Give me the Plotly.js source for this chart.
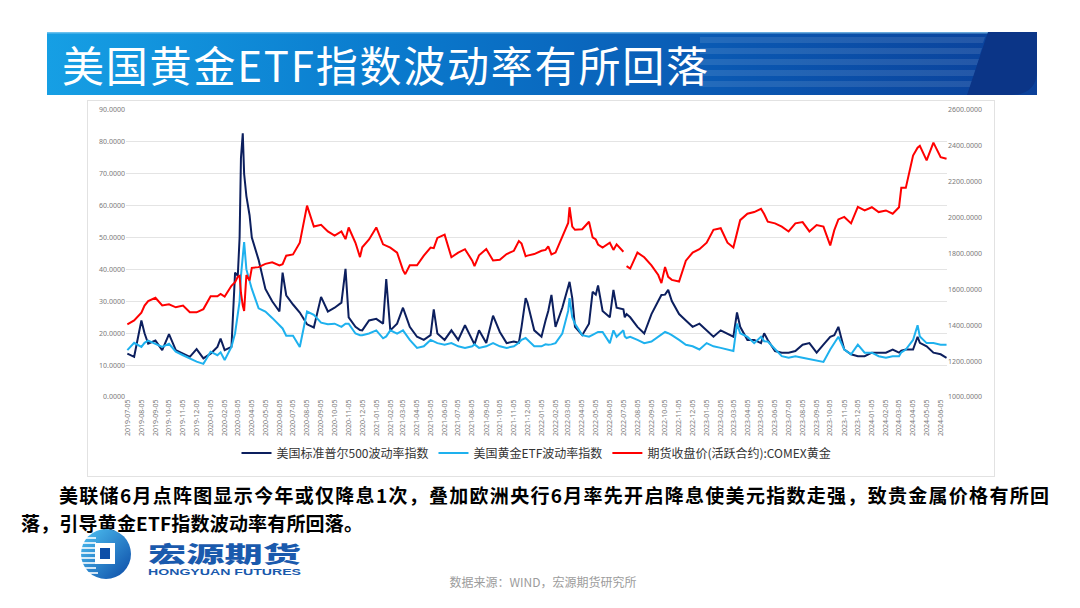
<!DOCTYPE html>
<html><head><meta charset="utf-8">
<script src="https://cdn.plot.ly/plotly-3.0.1.min.js"></script>
<style>
body{margin:0;width:1080px;height:608px;background:#fff;position:relative;overflow:hidden;font-family:"Noto Sans CJK SC",sans-serif;}
#deco{position:absolute;left:0;top:0}
#chart{position:absolute;left:87px;top:100px;width:908px;height:377px;}
</style></head>
<body>
<svg id="deco" width="1080" height="608" xmlns="http://www.w3.org/2000/svg">
<defs>
<linearGradient id="bg" x1="0" x2="1" y1="0" y2="0">
<stop offset="0" stop-color="#169fe4"/>
<stop offset="0.35" stop-color="#0a7acd"/>
<stop offset="0.7" stop-color="#0a57b1"/>
<stop offset="1" stop-color="#0b4099"/>
</linearGradient>
<linearGradient id="lg" x1="0" x2="1" y1="0" y2="1">
<stop offset="0" stop-color="#4fc3f3"/>
<stop offset="1" stop-color="#0b4aa6"/>
</linearGradient>
</defs>
<rect x="47" y="32" width="990" height="63" fill="url(#bg)"/>
<rect x="47" y="32" width="990" height="1.5" fill="#8fd0f2" opacity="0.7"/>
<g fill="#ffffff" opacity="0.1">
<polygon points="700,37 985,37 983,43 700,43"/>
<polygon points="700,48 982,48 980,54 700,54"/>
<polygon points="700,59 979,59 977,65 700,65"/>
<polygon points="700,70 976,70 974,76 700,76"/>
<polygon points="700,81 973,81 971,87 700,87"/>
</g>
<path d="M988,32 L1037,32 L1037,70 Q1037,95 1010,95 L967,95 Z" fill="#0b3587"/>
<text x="62" y="82" font-family="Noto Sans CJK SC" font-size="42" font-weight="400" fill="#ffffff" textLength="646" lengthAdjust="spacing">美国黄金ETF指数波动率有所回落</text>
<rect x="87.5" y="100.5" width="907" height="376" fill="#ffffff" stroke="#e2e2e2" stroke-width="1"/>
<text x="59" y="503" font-family="Noto Sans CJK SC" font-size="19" font-weight="700" fill="#000" textLength="990" lengthAdjust="spacing">美联储6月点阵图显示今年或仅降息1次，叠加欧洲央行6月率先开启降息使美元指数走强，致贵金属价格有所回</text>
<text x="21" y="531" font-family="Noto Sans CJK SC" font-size="19" font-weight="700" fill="#000" textLength="342" lengthAdjust="spacing">落，引导黄金ETF指数波动率有所回落。</text>
<g transform="translate(74,529)">
<circle cx="32" cy="25" r="25" fill="url(#lg)"/>
<g stroke="#ffffff" stroke-width="1.6">
<line x1="4" y1="9" x2="22" y2="9"/><line x1="2" y1="14" x2="22" y2="14"/><line x1="1" y1="19" x2="22" y2="19"/>
<line x1="0" y1="24" x2="22" y2="24"/><line x1="1" y1="29" x2="22" y2="29"/><line x1="2" y1="34" x2="22" y2="34"/>
<line x1="4" y1="39" x2="22" y2="39"/><line x1="8" y1="44" x2="24" y2="44"/>
</g>
<rect x="21" y="14" width="20" height="21" fill="#ffffff"/>
<rect x="26" y="19" width="10" height="11" fill="#0d4ea8"/>
</g>
<text x="148" y="562" font-family="Noto Sans CJK SC" font-size="22" font-weight="900" fill="#1a5aad" textLength="153" lengthAdjust="spacingAndGlyphs">宏源期货</text>
<text x="148" y="575" font-family="Liberation Sans" font-size="9.5" font-weight="700" fill="#1a5aad" textLength="153" lengthAdjust="spacingAndGlyphs">HONGYUAN FUTURES</text>
<text x="543" y="587" text-anchor="middle" font-family="Noto Sans CJK SC" font-size="12" fill="#9c9c9c">数据来源：WIND，宏源期货研究所</text>
</svg>
<div id="chart"></div>
<script>
const dates = ['2019-07-05','2019-07-20','2019-08-05','2019-08-12','2019-08-20','2019-09-05','2019-09-20','2019-10-05','2019-10-20','2019-11-05','2019-11-20','2019-12-05','2019-12-20',
'2020-01-05','2020-01-20','2020-01-27','2020-02-05','2020-02-20','2020-02-28','2020-03-05','2020-03-09','2020-03-12','2020-03-16','2020-03-19','2020-03-24','2020-03-31','2020-04-05','2020-04-20','2020-05-05','2020-05-20','2020-06-05','2020-06-12','2020-06-20','2020-07-05','2020-07-20','2020-08-05','2020-08-20','2020-09-05','2020-09-20','2020-10-05','2020-10-20','2020-10-29','2020-11-05','2020-11-20','2020-11-30','2020-12-05','2020-12-20',
'2021-01-05','2021-01-20','2021-01-27','2021-02-05','2021-02-20','2021-03-05','2021-03-10','2021-03-20','2021-04-05','2021-04-20','2021-05-05','2021-05-12','2021-05-20','2021-06-05','2021-06-20','2021-07-05','2021-07-20','2021-08-05','2021-08-10','2021-08-20','2021-09-05','2021-09-20','2021-10-05','2021-10-20','2021-11-05','2021-11-16','2021-11-22','2021-12-01','2021-12-05','2021-12-20',
'2022-01-05','2022-01-14','2022-01-20','2022-01-27','2022-02-05','2022-02-20','2022-03-05','2022-03-08','2022-03-14','2022-03-20','2022-04-05','2022-04-20','2022-04-28','2022-05-05','2022-05-10','2022-05-20','2022-06-05','2022-06-13','2022-06-20','2022-07-05','2022-07-08','2022-07-12','2022-07-20','2022-08-05','2022-08-20','2022-09-05','2022-09-20','2022-09-27','2022-10-05','2022-10-12','2022-10-20','2022-11-05','2022-11-20','2022-12-05','2022-12-20',
'2023-01-05','2023-01-20','2023-02-05','2023-02-20','2023-03-05','2023-03-13','2023-03-20','2023-04-05','2023-04-20','2023-05-05','2023-05-12','2023-05-20','2023-06-05','2023-06-20','2023-07-05','2023-07-20','2023-08-05','2023-08-20','2023-09-05','2023-09-20','2023-10-05','2023-10-14','2023-10-23','2023-11-05','2023-11-20','2023-12-05','2023-12-20',
'2024-01-05','2024-01-20','2024-02-05','2024-02-20','2024-03-05','2024-03-10','2024-03-20','2024-04-05','2024-04-15','2024-04-20','2024-05-05','2024-05-20','2024-06-05','2024-06-18'];

const spxVol = [13.6,12.6,24.0,20.0,16.7,17.7,14.7,19.7,14.7,13.6,12.6,15.0,12.1,
13.6,15.7,18.3,14.7,15.7,39.0,38.0,50.0,75.0,82.7,70.0,63.0,57.0,50.0,43.0,33.9,30.0,26.8,39.0,31.9,29.0,26.5,22.8,21.8,31.4,26.8,28.0,29.6,40.2,25.0,22.0,21.0,20.9,24.0,
24.5,23.0,37.0,20.9,23.0,28.0,26.0,22.0,18.9,17.9,19.4,27.5,19.9,17.9,20.9,17.9,22.5,17.9,16.5,20.9,16.9,25.5,20.4,16.9,17.4,17.0,22.0,31.0,29.6,20.9,
18.9,24.0,27.0,32.0,22.0,28.0,35.0,36.1,31.0,22.0,19.4,23.0,33.0,32.1,35.0,27.0,25.0,33.6,28.0,27.5,25.0,26.0,25.0,22.0,19.9,26.0,30.1,32.0,32.1,33.6,30.1,26.0,24.0,22.0,23.0,
20.9,18.9,20.9,19.9,18.9,26.5,22.0,17.9,17.9,16.9,20.0,17.9,14.4,13.9,13.9,14.4,16.4,16.9,13.9,16.4,18.9,19.4,22.0,14.9,13.4,12.8,12.8,
13.9,13.9,13.9,14.9,13.9,14.5,14.9,14.9,18.9,17.0,15.9,13.9,13.4,12.3];

const goldEtfVol = [14.7,17.0,15.7,17.0,17.7,16.7,15.7,16.7,14.2,13.1,12.1,11.1,10.4,
14.2,13.1,14.0,11.6,15.7,20.0,25.8,30.0,38.0,45.0,48.6,40.0,36.0,33.9,27.8,26.8,24.8,22.3,21.5,19.2,19.2,15.7,26.8,25.8,23.3,22.8,23.0,22.0,23.0,23.0,19.9,19.4,19.4,19.9,
20.9,18.4,19.0,20.9,19.9,20.9,20.0,17.9,15.4,15.9,17.9,17.5,16.9,16.4,16.9,15.9,15.4,15.9,16.5,15.4,15.9,16.9,15.9,15.4,15.9,17.0,17.9,18.5,17.9,15.9,
15.9,16.5,16.4,16.5,16.9,19.9,27.0,31.0,25.0,23.0,19.4,18.9,19.5,19.9,20.4,20.4,16.9,20.9,18.9,20.9,19.0,18.5,18.9,17.9,16.9,17.4,18.9,19.5,20.4,20.0,19.4,17.9,16.4,15.9,14.9,
16.9,15.9,15.4,14.9,14.4,23.0,20.0,18.9,16.9,18.9,17.5,17.4,14.9,12.8,12.3,12.8,12.3,11.8,11.3,11.0,14.9,16.9,18.9,14.9,13.4,16.4,13.9,
13.9,12.8,12.3,12.8,12.8,14.0,14.9,17.9,22.5,19.0,16.9,16.9,16.4,16.4];

const comexGold = [1405,1427,1470,1510,1535,1553,1510,1517,1500,1510,1472,1472,1490,
1562,1562,1575,1560,1620,1640,1670,1675,1580,1510,1480,1680,1650,1720,1724,1742,1751,1733,1740,1788,1795,1860,2067,1950,1960,1923,1900,1923,1880,1945,1860,1780,1835,1878,
1945,1851,1845,1833,1805,1707,1685,1734,1734,1788,1833,1830,1887,1905,1779,1805,1824,1760,1730,1790,1825,1761,1765,1797,1815,1869,1855,1785,1788,1797,
1815,1820,1840,1795,1805,1896,1970,2058,1950,1932,1935,1977,1890,1878,1850,1833,1860,1820,1851,1810,null,1730,1716,1805,1779,1734,1680,1635,1725,1670,1653,1644,1760,1805,1824,
1860,1932,1941,1860,1833,1910,1986,2022,2031,2049,2020,1977,1968,1950,1923,1968,1975,1923,1959,1950,1845,1930,1990,2004,1968,2060,2040,
2058,2031,2040,2022,2058,2166,2166,2346,2390,2400,2319,2418,2337,2328];

const seriesNames = ['美国标准普尔500波动率指数','美国黄金ETF波动率指数','期货收盘价(活跃合约):COMEX黄金'];

const tickVals = [];
for (let y = 2019, m = 7; y < 2024 || (y === 2024 && m <= 6);) {
  tickVals.push(y + '-' + String(m).padStart(2, '0') + '-05');
  m++; if (m > 12) { m = 1; y++; }
}
const tickText = tickVals.slice();

const traces = [
  {x: dates, y: spxVol, name: seriesNames[0], type: 'scatter', mode: 'lines', line: {color: '#0c1f5e', width: 2}, yaxis: 'y'},
  {x: dates, y: goldEtfVol, name: seriesNames[1], type: 'scatter', mode: 'lines', line: {color: '#1eb1ee', width: 2}, yaxis: 'y'},
  {x: dates, y: comexGold, name: seriesNames[2], type: 'scatter', mode: 'lines', line: {color: '#ff0000', width: 2}, yaxis: 'y2', connectgaps: false}
];

const tf = {family: 'Noto Sans, sans-serif', size: 7, color: '#7a7a7a'};
const layout = {
  width: 908, height: 377,
  margin: {l: 39, r: 48, t: 10, b: 71},
  paper_bgcolor: 'rgba(0,0,0,0)', plot_bgcolor: 'rgba(0,0,0,0)',
  showlegend: true,
  legend: {orientation: 'h', x: 0.5, xanchor: 'center', y: -0.195, yanchor: 'middle',
    font: {family: 'Noto Sans CJK SC', size: 12, color: '#333333'}, itemwidth: 30, traceorder: 'normal'},
  xaxis: {type: 'date', range: ['2019-07-02', '2024-06-19'], tickmode: 'array', tickvals: tickVals, ticktext: tickText,
    tickangle: -90, tickfont: tf, showgrid: false, showline: false, zeroline: false, ticks: ''},
  yaxis: {range: [0, 90], dtick: 10, tick0: 0, tickformat: '.4f', tickfont: tf, gridcolor: '#e4e4e4', gridwidth: 1,
    zeroline: false, showline: false, ticks: ''},
  yaxis2: {overlaying: 'y', side: 'right', range: [1000, 2600], dtick: 200, tick0: 1000, tickformat: '.4f', tickfont: tf,
    showgrid: false, zeroline: false, showline: false, ticks: ''}
};
Plotly.newPlot('chart', traces, layout, {displayModeBar: false, staticPlot: true});
</script>
</body></html>
